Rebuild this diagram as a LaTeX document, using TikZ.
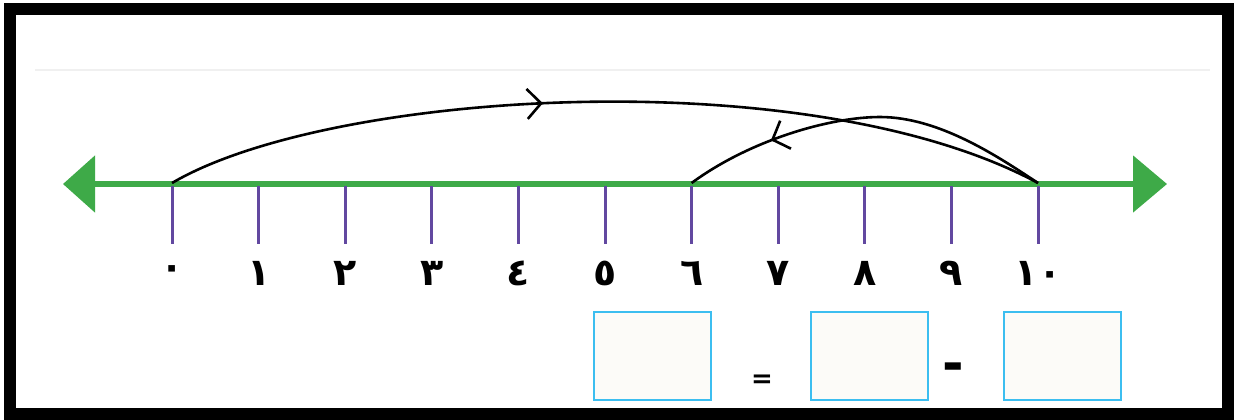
\documentclass[tikz,border=0pt]{standalone}
\usepackage{fontspec}
\setmainfont{DejaVu Sans}
\newfontfamily\arabicfont[Script=Arabic]{DejaVu Sans}
\usetikzlibrary{arrows.meta,decorations.markings}
\definecolor{nlgreen}{RGB}{62,170,72}
\definecolor{tickpurple}{RGB}{98,72,160}
\definecolor{boxblue}{RGB}{60,190,240}
\definecolor{boxfill}{RGB}{252,251,248}
\begin{document}
\begin{tikzpicture}[x=0.5pt,y=-0.5pt,
  frame/.style={draw=black,line width=6pt},
  numline/.style={draw=nlgreen,line width=2.6pt},
  ticks/.style={draw=tickpurple,line width=1.5pt},
  jump/.style={draw=black,line width=1.3pt},
  numlabel/.style={font=\arabicfont\bfseries\fontsize{19}{21}\selectfont,inner sep=0pt},
  answerbox/.style={draw=boxblue,fill=boxfill,line width=1pt,minimum width=58.5pt,minimum height=44pt,inner sep=0pt},
  sign/.style={inner sep=0pt,font=\bfseries}
  ]
\useasboundingbox (0,0) rectangle (1246,419);
\fill[white] (0,0) rectangle (1246,419);
\draw[frame] (10,9) rectangle (1228,413.5);
\draw[black!6,line width=0.6pt] (35,70) -- (1210,70);
% number line
\coordinate (L) at (63,184);
\coordinate (R) at (1167,184);
\draw[numline,{Triangle[length=16pt,width=28pt]}-{Triangle[length=17pt,width=28pt]}] (L) -- (R);
% ticks and labels
\foreach \i/\d in {0/٠,1/١,2/٢,3/٣,4/٤,5/٥,6/٦,7/٧,8/٨,9/٩,10/١٠}{
  \coordinate (t\i) at ({172+86.6*\i},183);
  \coordinate (b\i) at ({172+86.6*\i},244);
  \draw[ticks] ([yshift=-1.5pt]t\i) -- (b\i);
  \node[numlabel] (n\i) at ({172+86.6*\i},273) {\d};
}
% jumps
\coordinate (peak) at (880,117);
\draw[jump,postaction={decorate},decoration={markings,mark=at position 0.43 with {\arrow{Straight Barb[length=7pt,width=15pt,line width=1.3pt]}}}]
  (t0) .. controls (330,90) and (810,60) .. (t10);
\draw[jump,postaction={decorate},decoration={markings,mark=at position 0.76 with {\arrow{Straight Barb[length=7pt,width=15pt,line width=1.3pt]}}}]
  (t10) .. controls (1000,158) and (940,117) .. (peak)
        .. controls (830,117) and (750,140) .. (t6);
% answer boxes
\node[answerbox] (box1) at (652.5,356) {};
\node[answerbox] (box2) at (869,356) {};
\node[answerbox] (box3) at (1062,356) {};
\node[sign,font=\bfseries\fontsize{13}{15}\selectfont] (eq) at (762,381) {=};
\node[sign,font=\bfseries\fontsize{26}{28}\selectfont] (minus) at (953,372) {-};
\end{tikzpicture}
\end{document}
